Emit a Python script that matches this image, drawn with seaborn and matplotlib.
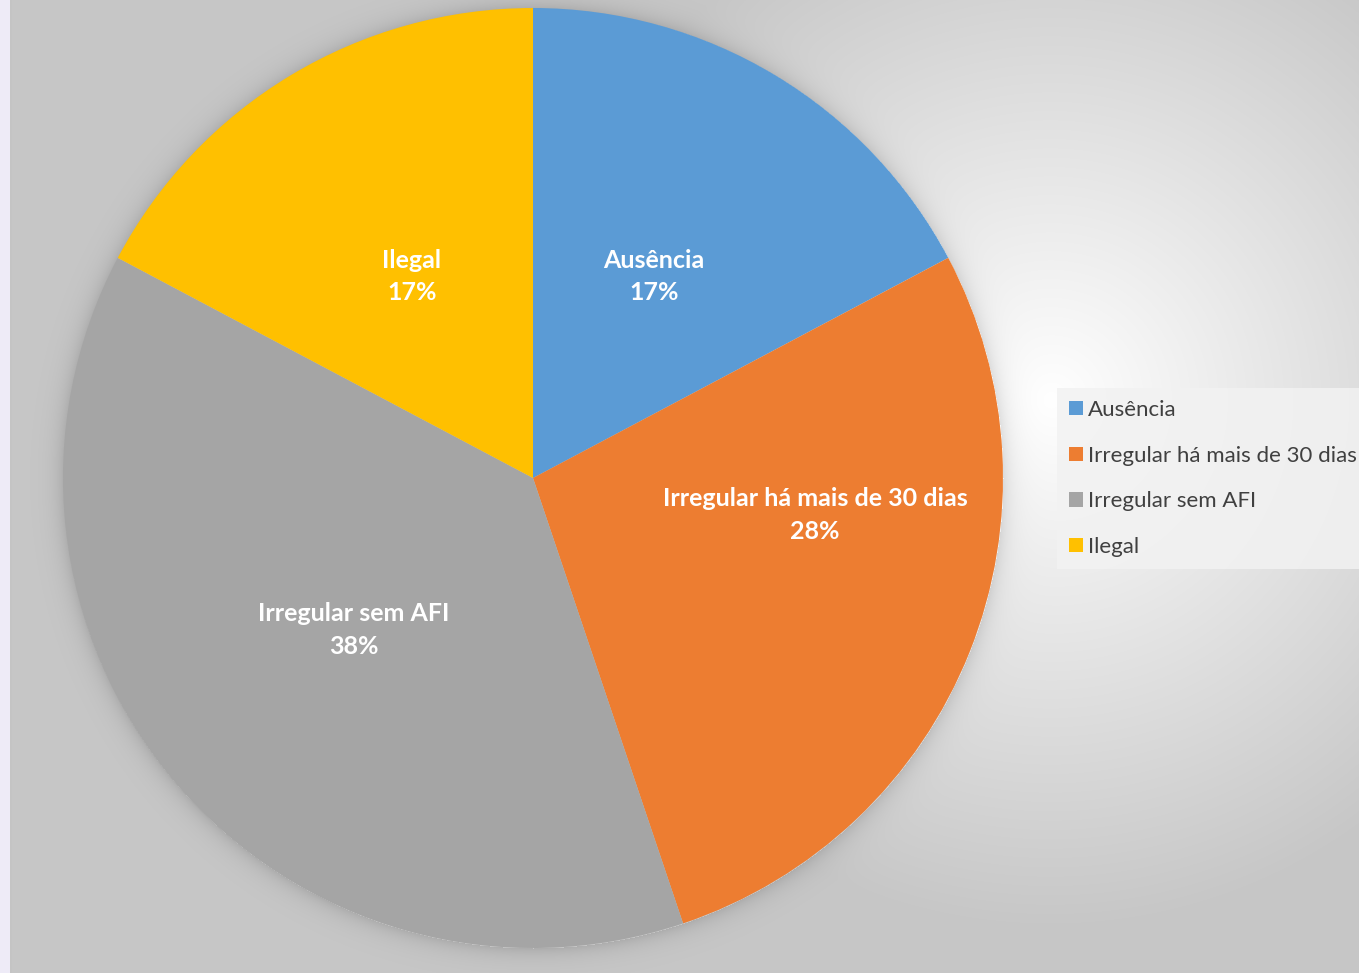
import numpy as np
import seaborn as sns
import matplotlib.pyplot as plt
from matplotlib.patches import Rectangle

# dados (contagens)
categorias = ["Ausência", "Irregular há mais de 30 dias", "Irregular sem AFI", "Ilegal"]
valores = [5, 8, 11, 5]
cores = ["#5B9BD5", "#ED7D31", "#A5A5A5", "#FFC000"]

sns.set_theme(style="white")
plt.rcParams['font.family'] = ['Lato', 'DejaVu Sans']

W, H = 1359, 973
fig = plt.figure(figsize=(W / 100, H / 100), dpi=100)

# fundo com gradiente radial + sombra do gráfico
yy, xx = np.mgrid[0:H, 0:W]
d = np.hypot(xx - 1050, yy - 400)
fundo = np.clip(1 - 0.00042 * d, 0.78, 1.0)
cx, cy, R = 533, 478, 470
r = np.hypot(xx - cx, yy - cy)
sombra = np.where(r > R, 0.10 * np.exp(-(r - R) / 10.0), 0)
fundo = fundo - sombra
img = np.dstack([fundo, fundo, fundo])
bg = fig.add_axes([0, 0, 1, 1])
bg.imshow(img, extent=[0, W, H, 0], aspect='auto')
bg.add_patch(Rectangle((0, 0), 10, H, color="#EEEBF7", lw=0))
bg.add_patch(Rectangle((10, 0), 1.5, H, color="#C4C4C4", lw=0))
bg.set_xlim(0, W)
bg.set_ylim(H, 0)
bg.axis('off')

# pizza
ax = fig.add_axes([(cx - R) / W, (H - cy - R) / H, 2 * R / W, 2 * R / H])
wedges, _ = ax.pie(valores, colors=cores, startangle=90, counterclock=False,
                   radius=1, wedgeprops=dict(linewidth=0))
ax.set_xlim(-1, 1)
ax.set_ylim(-1, 1)
ax.axis('off')

total = sum(valores)
for i, w in enumerate(wedges):
    ang = np.deg2rad((w.theta1 + w.theta2) / 2)
    x, y = 0.5 * np.cos(ang), 0.5 * np.sin(ang)
    if i == 1:
        x, y = 0.60, -0.079
    pct = round(100 * valores[i] / total)
    ax.text(x, y, f"{categorias[i]}\n{pct}%", ha='center', va='center',
            color='white', fontsize=18, fontweight='bold', linespacing=1.5)

leg = fig.legend(wedges, categorias, loc='upper left',
                 bbox_to_anchor=(1057 / W, 1 - 388 / H),
                 frameon=True, fancybox=False, fontsize=16,
                 handlelength=0.6, handleheight=0.6, handletextpad=0.25,
                 labelspacing=1.15, borderpad=0.55, borderaxespad=0)
leg.get_frame().set_facecolor("#F2F2F2")
leg.get_frame().set_edgecolor("none")
leg.get_frame().set_alpha(0.85)
for t in leg.get_texts():
    t.set_color("#404040")

fig.savefig("out.png", dpi=100)
